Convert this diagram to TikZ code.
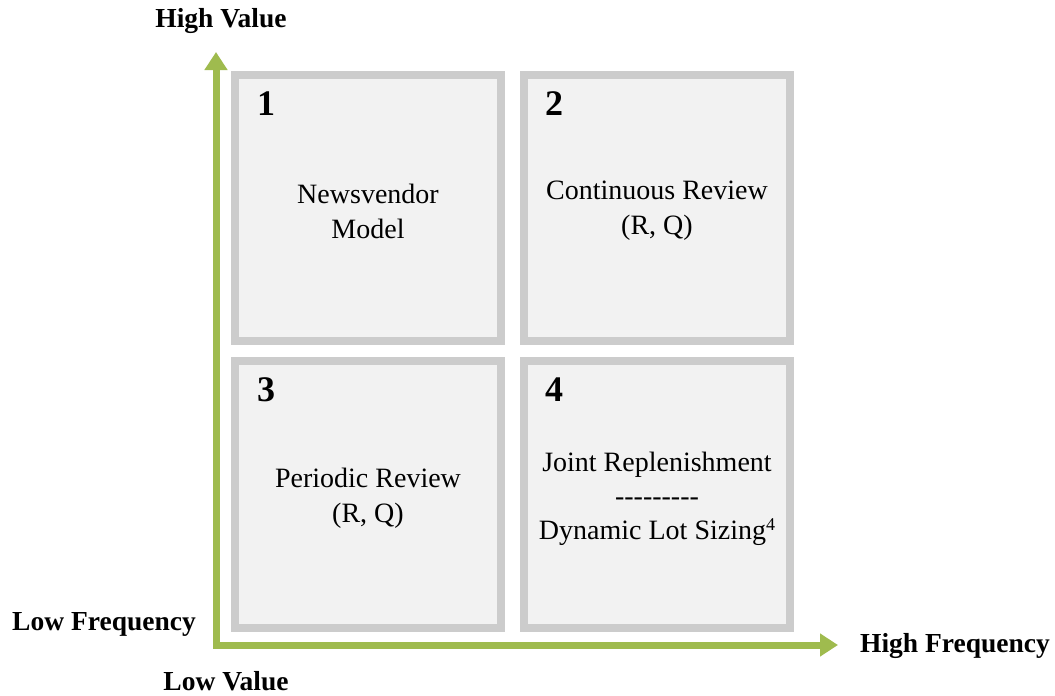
\documentclass[tikz,border=0pt]{standalone}
\usepackage{fontspec}
\setmainfont{Liberation Serif}
\usetikzlibrary{arrows.meta}
\definecolor{axisgreen}{HTML}{9FBB4E}
\definecolor{boxborder}{HTML}{CCCCCC}
\definecolor{boxfill}{HTML}{F2F2F2}
\tikzset{
  quad/.style={draw=boxborder, fill=boxfill, line width=8pt, minimum width=266pt, minimum height=266pt, inner sep=0pt},
  quadnum/.style={font=\fontsize{36}{40}\selectfont\bfseries, inner sep=0pt, anchor=center},
  quadtext/.style={font=\fontsize{28}{35}\selectfont, align=center, inner sep=0pt},
  axislabel/.style={font=\fontsize{27.5}{30}\selectfont\bfseries, inner sep=0pt},
  axisline/.style={draw=axisgreen, line width=7pt, line join=miter, -{Triangle[length=18pt,width=22pt]}}
}
\newcommand{\hy}{-\kern0pt}
\begin{document}
\begin{tikzpicture}[x=1pt,y=-1pt]
\useasboundingbox (0,0) rectangle (1055,696);
% quadrants
\node[quad] (q1) at (368,208) {};
\node[quad] (q2) at (657,208) {};
\node[quad, minimum height=267pt] (q3) at (368,494.5) {};
\node[quad, minimum height=267pt] (q4) at (657,494.5) {};
% numbers
\node[quadnum] (n1) at (266,104) {1};
\node[quadnum] (n2) at (554,104) {2};
\node[quadnum] (n3) at (266,390) {3};
\node[quadnum] (n4) at (554,390) {4};
% texts
\node[quadtext] (t1) at (368,211) {Newsvendor\\Model};
\node[quadtext] (t2) at (657,211) {Continuous Review\\(R, Q)};
\node[quadtext] (t3) at (368,498) {Periodic Review\\(R, Q)};
\node[quadtext, font=\fontsize{28}{34}\selectfont] (t4) at (657,499) {Joint Replenishment\\\hy\hy\hy\hy\hy\hy\hy\hy\hy\\Dynamic Lot Sizing{\fontsize{18}{18}\selectfont\raisebox{9pt}{4}}};
% axes
\coordinate (corner) at (216,645);
\coordinate (ytip) at (216,52);
\coordinate (xtip) at (838,645);
\draw[axisline] (corner) -- (ytip);
\draw[axisline] (corner) -- (xtip);
\fill[axisgreen] (212.5,641.5) rectangle (219.5,648.5);
% axis labels
\node[axislabel] (hv) at (221,21) {High Value};
\node[axislabel] (lf) at (104,624) {Low Frequency};
\node[axislabel] (lv) at (226,681) {Low Value};
\node[axislabel] (hf) at (955,646) {High Frequency};
\end{tikzpicture}
\end{document}
